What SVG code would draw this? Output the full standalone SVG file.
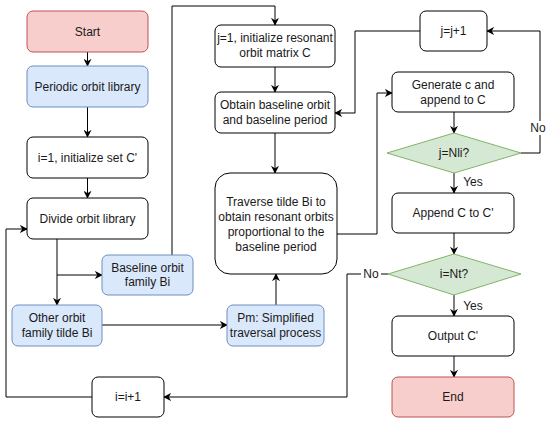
<svg xmlns="http://www.w3.org/2000/svg" width="550" height="423" viewBox="0 0 550 423">
<style>
.b{fill:#ffffff;stroke:#000000;stroke-width:1}
.r{fill:#f8cecc;stroke:#b85450;stroke-width:1}
.u{fill:#dae8fc;stroke:#6c8ebf;stroke-width:1}
.g{fill:#d5e8d4;stroke:#82b366;stroke-width:1}
text{font-family:"Liberation Sans",Arial,sans-serif;font-size:12px;fill:#1a1a1a;text-anchor:middle}
.c{fill:none;stroke:#000000;stroke-width:1}
</style>
<defs>
<marker id="a" viewBox="0 0 10 10" refX="9" refY="5" markerWidth="8" markerHeight="8" markerUnits="userSpaceOnUse" orient="auto">
<path d="M0,0 L10,5 L0,10 L3,5 Z" fill="#000"/>
</marker>
</defs>
<rect width="550" height="423" fill="#ffffff"/>
<g id="connectors">
<path class="c" d="M87.5,51 V66" marker-end="url(#a)"/>
<path class="c" d="M87.5,107 V137" marker-end="url(#a)"/>
<path class="c" d="M87.5,178 V198" marker-end="url(#a)"/>
<path class="c" d="M57,239 V305" marker-end="url(#a)"/>
<path class="c" d="M57,275 H102" marker-end="url(#a)"/>
<path class="c" d="M102,325 H227" marker-end="url(#a)"/>
<path class="c" d="M172,255 V6 H275 V25" marker-end="url(#a)"/>
<path class="c" d="M275,67 V92" marker-end="url(#a)"/>
<path class="c" d="M275,133 V173" marker-end="url(#a)"/>
<path class="c" d="M276,305 V274" marker-end="url(#a)"/>
<path class="c" d="M337,234 H377 V93 H392" marker-end="url(#a)"/>
<path class="c" d="M420,31 H355 V113 H335" marker-end="url(#a)"/>
<path class="c" d="M454,112 V133" marker-end="url(#a)"/>
<path class="c" d="M521,153 H540 V31 H487" marker-end="url(#a)"/>
<path class="c" d="M454,173 V193" marker-end="url(#a)"/>
<path class="c" d="M454,233 V254" marker-end="url(#a)"/>
<path class="c" d="M454,295 V316" marker-end="url(#a)"/>
<path class="c" d="M454,356 V377" marker-end="url(#a)"/>
<path class="c" d="M388,274 H347 V397 H164" marker-end="url(#a)"/>
<path class="c" d="M92,397 H6 V229 H27" marker-end="url(#a)"/>
<rect x="529" y="121" width="18" height="14" fill="#ffffff"/>
<text x="538" y="132">No</text>
<rect x="361" y="267" width="20" height="14" fill="#ffffff"/>
<text x="371" y="278">No</text>
<text x="473" y="186">Yes</text>
<text x="473" y="310">Yes</text>
</g>
<g id="start"><rect class="r" x="27" y="11" width="121" height="41" rx="6"/><text x="87.5" y="35.5">Start</text></g>
<g id="periodic"><rect class="u" x="27" y="66" width="121" height="41" rx="6"/><text x="87.5" y="90.5">Periodic orbit library</text></g>
<g id="init-set"><rect class="b" x="27" y="137" width="121" height="41" rx="6"/><text x="87.5" y="161.5">i=1, initialize set C'</text></g>
<g id="divide"><rect class="b" x="27" y="198" width="121" height="41" rx="6"/><text x="87.5" y="222.5">Divide orbit library</text></g>
<g id="baseline-family"><rect class="u" x="102" y="255" width="91" height="40" rx="6"/><text x="147.5" y="272">Baseline orbit</text><text x="147.5" y="286">family Bi</text></g>
<g id="other-family"><rect class="u" x="12" y="305" width="90" height="41" rx="6"/><text x="57" y="322">Other orbit</text><text x="57" y="337">family tilde Bi</text></g>
<g id="pm"><rect class="u" x="227" y="305" width="97" height="41" rx="6"/><text x="275.5" y="322">Pm: Simplified</text><text x="275.5" y="337">traversal process</text></g>
<g id="i-inc"><rect class="b" x="92" y="377" width="72" height="40" rx="6"/><text x="128" y="401">i=i+1</text></g>
<g id="j-init"><rect class="b" x="215" y="25" width="120" height="42" rx="6"/><text x="275" y="42">j=1, initialize resonant</text><text x="275" y="57">orbit matrix C</text></g>
<g id="obtain"><rect class="b" x="215" y="92" width="120" height="41" rx="6"/><text x="275" y="109">Obtain baseline orbit</text><text x="275" y="124">and baseline period</text></g>
<g id="traverse"><rect class="b" x="215" y="173" width="122" height="101" rx="15"/><text x="276" y="206">Traverse tilde Bi to</text><text x="276" y="221">obtain resonant orbits</text><text x="276" y="236">proportional to the</text><text x="276" y="251">baseline period</text></g>
<g id="j-inc"><rect class="b" x="420" y="11" width="67" height="40" rx="6"/><text x="453.5" y="35">j=j+1</text></g>
<g id="generate"><rect class="b" x="392" y="72" width="122" height="40" rx="6"/><text x="453" y="89">Generate c and</text><text x="453" y="104">append to C</text></g>
<g id="j-check"><path class="g" d="M454,133 L521,153 L454,173 L387,153 Z"/><text x="454" y="157">j=Nli?</text></g>
<g id="append"><rect class="b" x="392" y="193" width="122" height="40" rx="6"/><text x="453" y="217">Append C to C'</text></g>
<g id="i-check"><path class="g" d="M454,254 L521,274 L454,295 L388,274 Z"/><text x="454" y="278">i=Nt?</text></g>
<g id="output"><rect class="b" x="392" y="316" width="122" height="40" rx="6"/><text x="453" y="340">Output C'</text></g>
<g id="end"><rect class="r" x="392" y="377" width="122" height="40" rx="6"/><text x="453" y="401">End</text></g>
</svg>
